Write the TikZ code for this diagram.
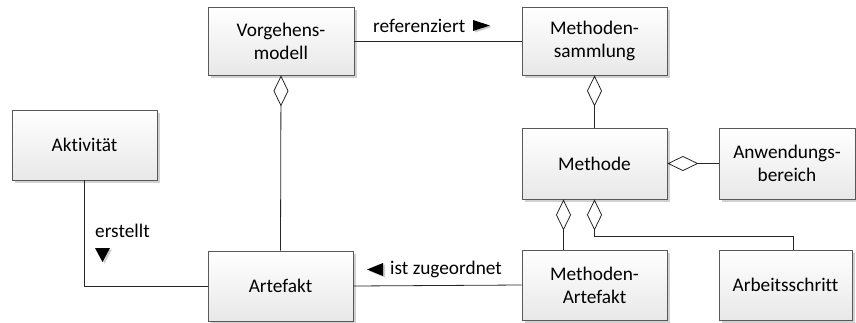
\documentclass[tikz,border=0pt]{standalone}
\usepackage{fontspec}
\setmainfont[RawFeature={-liga;-clig;-calt;-dlig}]{Carlito}
\usetikzlibrary{arrows.meta,shadows,calc}
\begin{document}
\begin{tikzpicture}[x=1pt,y=-1pt,
  box/.style={draw=black!65, line width=0.8pt, top color=white, bottom color=black!9,
    align=center, inner sep=0pt, font=\fontsize{19.3}{23}\selectfont,
    drop shadow={shadow xshift=3pt, shadow yshift=-3pt, fill=black!18, opacity=1}},
  link/.style={draw=black!85, line width=0.8pt},
  agg/.style={link, {Diamond[open, length=31pt, width=15pt, line width=0.8pt]}-},
  lbl/.style={font=\fontsize{19.3}{23}\selectfont, inner sep=0pt, anchor=west},
  tri/.style={fill=black}]
\useasboundingbox (0,0) rectangle (856,322);

% classes
\node[box, minimum width=146pt, minimum height=68pt] (vm) at (281,41) {Vorgehens-\\modell};
\node[box, minimum width=145pt, minimum height=68pt] (ms) at (594.5,41) {Methoden-\\sammlung};
\node[box, minimum width=145pt, minimum height=71pt] (me) at (594.5,163.5) {Methode};
\node[box, minimum width=136pt, minimum height=71pt] (ab) at (787,163.5) {Anwendungs-\\bereich};
\node[box, minimum width=145pt, minimum height=70pt] (ma) at (594.5,285) {Methoden-\\Artefakt};
\node[box, minimum width=133pt, minimum height=70pt] (as) at (785.5,285) {Arbeitsschritt};
\node[box, minimum width=145pt, minimum height=70pt] (ak) at (84.5,145) {Aktivität};
\node[box, minimum width=145pt, minimum height=70pt] (ar) at (280.5,286) {Artefakt};

% associations
\draw[link] (vm.east) -- (ms.west);
\draw[link] (ak.south) |- (ar.west);
\draw[link] (ar.east) -- (ma.west);

% aggregations
\draw[agg] (vm.south) -- (ar.north);
\draw[agg] (ms.south) -- (me.north);
\draw[agg] (me.east) -- (ab.west);
\draw[agg] ([xshift=-31pt]me.south) -- ([xshift=-31pt]ma.north);
\draw[agg] (me.south) -- ++(0,37) -| ([xshift=8pt]as.north);

% association labels with reading direction
\node[lbl] (lref) at (373,26) {referenziert};
\fill[black!20] (475,21.5) -- (492,27) -- (475,32.5) -- cycle;
\fill[tri] (473,20) -- (490,25.5) -- (473,31) -- cycle;

\node[lbl] (lerst) at (95,231) {erstellt};
\fill[black!20] (97,249.5) -- (112,249.5) -- (104.5,263.5) -- cycle;
\fill[tri] (95,248) -- (110,248) -- (102.5,262) -- cycle;

\node[lbl] (lzug) at (390,269) {ist zugeordnet};
\fill[black!20] (385,264.5) -- (385,277.5) -- (369,271) -- cycle;
\fill[tri] (383,263) -- (383,276) -- (367,269.5) -- cycle;
\end{tikzpicture}
\end{document}
